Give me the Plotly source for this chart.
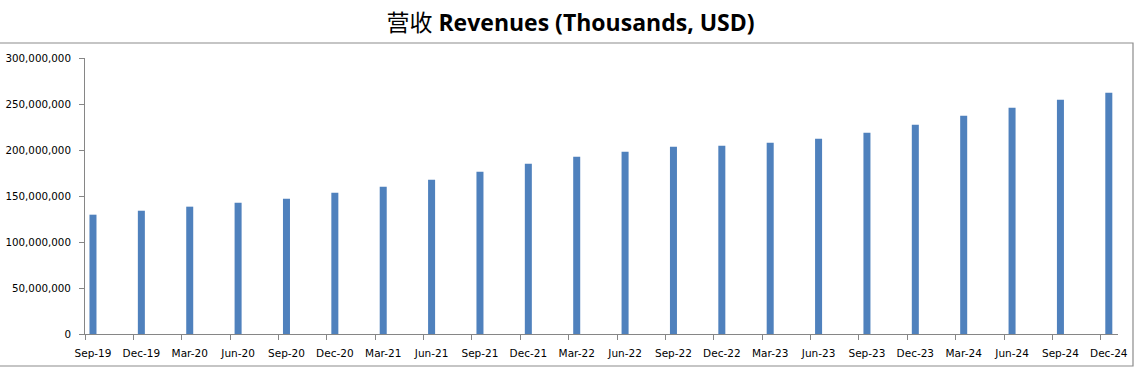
import plotly.graph_objects as go

quarters = ["Sep-19", "Dec-19", "Mar-20", "Jun-20", "Sep-20", "Dec-20", "Mar-21", "Jun-21",
            "Sep-21", "Dec-21", "Mar-22", "Jun-22", "Sep-22", "Dec-22", "Mar-23", "Jun-23",
            "Sep-23", "Dec-23", "Mar-24", "Jun-24", "Sep-24", "Dec-24"]
revenues = [129700000, 134000000, 138400000, 142700000, 147000000, 153600000, 160000000,
            167700000, 176400000, 185000000, 192700000, 198000000, 203600000, 204700000,
            208000000, 212300000, 218800000, 227500000, 237300000, 246000000, 254700000,
            262300000]
y_ticks = [0, 50000000, 100000000, 150000000, 200000000, 250000000, 300000000]

idx = list(range(len(quarters)))
tick_offset = 0.165
xr = [-tick_offset, len(quarters) - 1 + 0.19]

W, H = 1141, 375
L, R, T, B = 85, 23, 58, 41
PW, PH = W - L - R, H - T - B

fig = go.Figure()
fig.add_trace(go.Bar(x=idx, y=revenues, width=0.145, marker=dict(color="#4F81BD", line=dict(width=0)),
                     showlegend=False))
fig.add_trace(go.Scatter(x=[xr[0]], y=[0], xaxis="x2", mode="markers",
                         marker=dict(opacity=0), showlegend=False, hoverinfo="skip"))

axis_col = "#868686"
fig.update_layout(
    width=W, height=H,
    margin=dict(l=L, r=R, t=T, b=B),
    paper_bgcolor="white", plot_bgcolor="white",
    title=dict(text="营收 <b>Revenues (Thousands, USD)</b>", x=0.5, xref="container", xanchor="center",
               y=1 - 23 / H, yanchor="middle",
               font=dict(family="Open Sans, Noto Sans CJK SC", size=23, color="black")),
    xaxis=dict(range=xr, tickvals=idx, ticktext=quarters, ticks="", showline=True,
               linecolor=axis_col, linewidth=1, showgrid=False, zeroline=False, automargin=False,
               ticklabelstandoff=9,
               tickfont=dict(family="DejaVu Sans", size=10.5, color="black")),
    xaxis2=dict(range=xr, overlaying="x", side="bottom", anchor="y",
                tickvals=[i - tick_offset for i in idx], ticks="outside", ticklen=5,
                tickcolor=axis_col, showticklabels=False, showline=False, showgrid=False,
                zeroline=False, automargin=False),
    yaxis=dict(range=[0, 300000000], tickvals=y_ticks, tickformat=",d", ticks="outside",
               ticklen=5, tickcolor=axis_col, showline=True, linecolor=axis_col, linewidth=1,
               showgrid=False, zeroline=False, automargin=False, ticklabelstandoff=6,
               tickfont=dict(family="DejaVu Sans", size=10.3, color="black")),
    shapes=[dict(type="rect", xref="paper", yref="paper",
                 x0=-(L + 2) / PW, x1=(1133 - L) / PW,
                 y0=(H - B - 366) / PH, y1=(H - B - 43) / PH,
                 line=dict(color="#8C8C8C", width=1.2), fillcolor="rgba(0,0,0,0)", layer="below")],
)

fig.write_html("out.html", config={"displayModeBar": False},
               post_script="document.body.style.margin='0';document.body.style.padding='0';")
